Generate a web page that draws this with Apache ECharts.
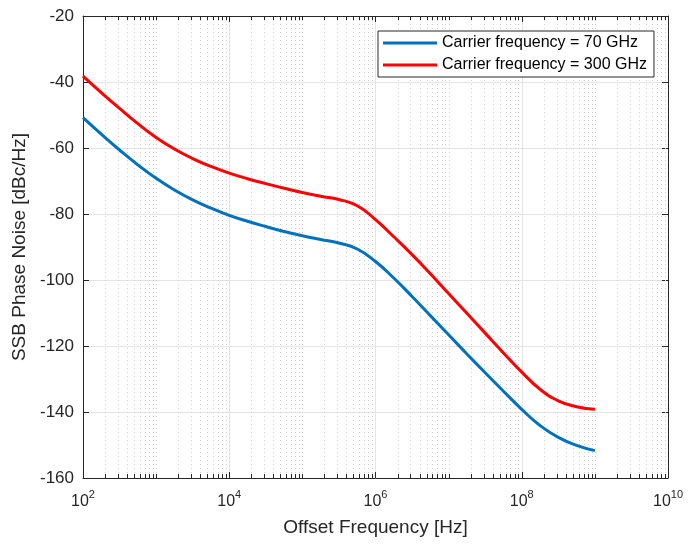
<!DOCTYPE html>
<html><head><meta charset="utf-8">
<script src="https://cdn.jsdelivr.net/npm/echarts@6/dist/echarts.min.js"></script>
<style>html,body{margin:0;padding:0;background:#fff}#c{width:691px;height:546px}</style>
</head><body><div id="c"></div>
<script>
// Offset frequency as decade exponents (Hz = 10^exp)
const offsetExp = [2, 2.25, 2.5, 2.75, 3, 3.25, 3.5, 3.75, 4, 4.25, 4.5, 4.75, 5, 5.25, 5.5, 5.75, 6, 6.25, 6.5, 6.75, 7, 7.25, 7.5, 7.75, 8, 8.25, 8.5, 8.75, 9];
// SSB phase noise [dBc/Hz]
const pn70GHz  = [-50.8, -55.8, -60.6, -65.1, -69.2, -72.7, -75.7, -78.2, -80.4, -82.2, -83.8, -85.3, -86.6, -87.7, -88.8, -90.6, -94.4, -99.4, -105.0, -110.8, -116.6, -122.4, -128.1, -133.7, -139.2, -144.1, -147.7, -150.1, -151.7];
const pn300GHz = [-38.2, -43.2, -48.0, -52.6, -56.8, -60.3, -63.2, -65.6, -67.6, -69.3, -70.8, -72.2, -73.5, -74.6, -75.6, -77.5, -81.7, -86.9, -92.3, -98.1, -104.1, -110.1, -116.1, -122.1, -127.9, -133.1, -136.6, -138.4, -139.2];
const seriesNames = ['Carrier frequency = 70 GHz', 'Carrier frequency = 300 GHz'];
const xTickExp = [2, 4, 6, 8, 10];
const yTicks = [-160, -140, -120, -100, -80, -60, -40, -20];

const offsetFreq = offsetExp.map(e => Math.pow(10, e));
const xMin = Math.pow(10, xTickExp[0]), xMax = Math.pow(10, xTickExp[xTickExp.length - 1]);
const yMin = yTicks[0], yMax = yTicks[yTicks.length - 1];

// minor log positions (2..9 x 10^d, and odd decades)
const minorX = [];
for (let d = xTickExp[0]; d < xTickExp[xTickExp.length - 1]; d++) {
  for (let k = 1; k <= 9; k++) {
    if (k === 1 && xTickExp.indexOf(d) >= 0) continue;
    minorX.push(k * Math.pow(10, d));
  }
}

const FONT = "'Liberation Sans', Arial, Helvetica, sans-serif";
const AX = '#262626';
const chart = echarts.init(document.getElementById('c'), null, {renderer: 'canvas'});

const xAxisBase = {
  type: 'log', logBase: 10, min: xMin, max: xMax, interval: 2,
  axisLine: {show: true, lineStyle: {color: AX, width: 1}},
  axisTick: {show: true, inside: true, length: 6, lineStyle: {color: AX}},
  minorTick: {show: false}
};
const yAxisBase = {
  type: 'value', min: yMin, max: yMax, interval: 20,
  axisLine: {show: true, onZero: false, lineStyle: {color: AX, width: 1}},
  axisTick: {show: true, inside: true, length: 6, lineStyle: {color: AX}}
};

chart.setOption({
  animation: false,
  backgroundColor: '#fff',
  textStyle: {fontFamily: FONT},
  grid: {left: 83, right: 23, top: 16, bottom: 68, containLabel: false},
  legend: {
    data: seriesNames,
    orient: 'vertical', left: 378, top: 31,
    padding: [4, 7, 4, 5], itemGap: 6,
    itemWidth: 54, itemHeight: 3, icon: 'rect',
    backgroundColor: '#fff', borderColor: AX, borderWidth: 1, borderRadius: 0,
    textStyle: {fontFamily: FONT, fontSize: 16, color: '#000', lineHeight: 16},
    selectedMode: false
  },
  xAxis: [
    Object.assign({}, xAxisBase, {
      position: 'bottom',
      name: 'Offset Frequency [Hz]', nameLocation: 'middle', nameGap: 40,
      nameTextStyle: {fontFamily: FONT, fontSize: 19, color: AX},
      axisLabel: {
        margin: 11, color: AX, fontFamily: FONT,
        formatter: v => '{b|10}{s|' + Math.round(Math.log10(v)) + '}',
        rich: {
          b: {fontSize: 16, fontFamily: FONT, color: AX, padding: [5, 0, 0, 0], verticalAlign: 'bottom'},
          s: {fontSize: 11, fontFamily: FONT, color: AX, verticalAlign: 'top'}
        }
      },
      splitLine: {show: true, lineStyle: {color: '#e4e4e4', width: 1}}
    }),
    Object.assign({}, xAxisBase, {
      position: 'top', axisLabel: {show: false}, splitLine: {show: false}
    })
  ],
  yAxis: [
    Object.assign({}, yAxisBase, {
      position: 'left',
      name: 'SSB Phase Noise [dBc/Hz]', nameLocation: 'middle', nameGap: 48,
      nameTextStyle: {fontFamily: FONT, fontSize: 19, color: AX},
      axisLabel: {margin: 9, fontSize: 17, color: AX, fontFamily: FONT},
      splitLine: {show: true, lineStyle: {color: '#e4e4e4', width: 1}}
    }),
    Object.assign({}, yAxisBase, {
      position: 'right', axisLabel: {show: false}, splitLine: {show: false}
    })
  ],
  series: [
    {
      type: 'custom', name: 'minorGrid', silent: true, z: 1,
      xAxisIndex: 0, yAxisIndex: 0,
      data: minorX.map(v => [v, yMin]),
      encode: {x: 0, y: 1},
      renderItem: (params, api) => {
        const cs = params.coordSys;
        const x = Math.round(api.coord([api.value(0), yMin])[0]) + 0.5;
        const top = cs.y, bot = cs.y + cs.height;
        return {type: 'group', children: [
          {type: 'line', shape: {x1: x, y1: top, x2: x, y2: bot}, style: {stroke: '#d0d0d0', lineWidth: 1, lineDash: [1, 3]}},
          {type: 'line', shape: {x1: x, y1: bot, x2: x, y2: bot - 4}, style: {stroke: AX, lineWidth: 1}},
          {type: 'line', shape: {x1: x, y1: top, x2: x, y2: top + 4}, style: {stroke: AX, lineWidth: 1}}
        ]};
      }
    },
    {
      type: 'line', name: seriesNames[0], z: 3,
      data: offsetFreq.map((f, i) => [f, pn70GHz[i]]),
      symbol: 'none', smooth: 0.5,
      lineStyle: {color: '#0072BD', width: 3}, itemStyle: {color: '#0072BD'}
    },
    {
      type: 'line', name: seriesNames[1], z: 3,
      data: offsetFreq.map((f, i) => [f, pn300GHz[i]]),
      symbol: 'none', smooth: 0.5,
      lineStyle: {color: '#FF0000', width: 3}, itemStyle: {color: '#FF0000'}
    }
  ]
});
</script>
</body></html>
